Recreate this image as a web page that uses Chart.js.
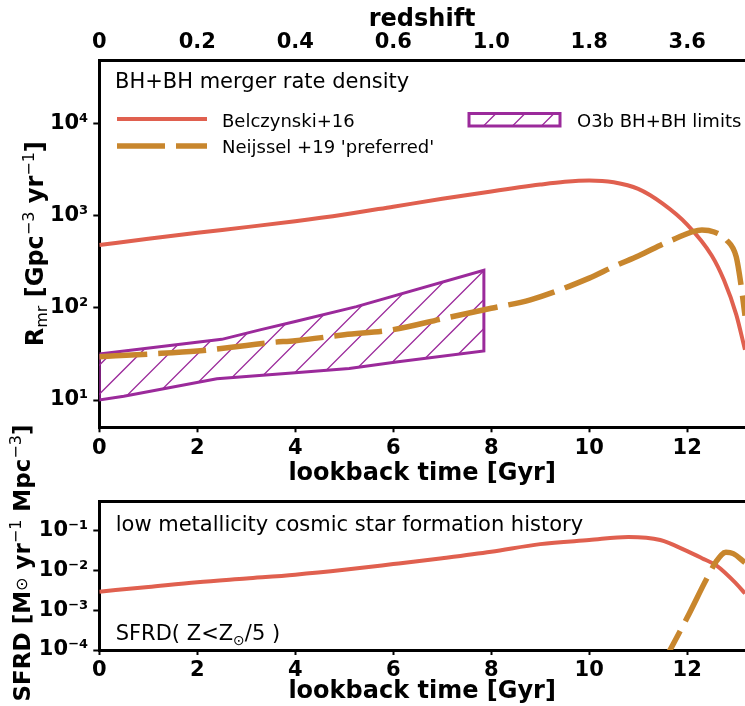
<!DOCTYPE html>
<html>
<head>
<meta charset="utf-8">
<script src="https://cdn.jsdelivr.net/npm/chart.js@4.4.1/dist/chart.umd.min.js"></script>
<style>
  body { margin: 0; background: #fff; width: 745px; height: 706px; overflow: hidden; position: relative; }
  canvas { position: absolute; left: 0; }
  #topChart { top: 0; }
  #botChart { top: 400px; }
</style>
</head>
<body>
<canvas id="topChart" width="745" height="492"></canvas>
<canvas id="botChart" width="745" height="306"></canvas>
<script>
// lookback time axis
const timeTicks = [0, 2, 4, 6, 8, 10, 12];
const redshiftLabels = ['0', '0.2', '0.4', '0.6', '1.0', '1.8', '3.6'];
const T_MAX = 13.18;

// BH+BH merger rate density [Gpc^-3 yr^-1]
const tBelczynski = [0, 1, 2, 3, 4, 5, 6, 7, 8, 9, 9.5, 10, 10.5, 11, 11.5, 12, 12.5, 12.75, 13, 13.18];
const rateBelczynski = [480, 560, 650, 750, 870, 1030, 1250, 1520, 1830, 2170, 2330, 2410, 2300, 1950, 1350, 800, 370, 200, 85, 35];
const tNeijssel = [0, 1, 2, 3, 3.5, 4, 5, 6, 7, 8, 8.8, 10, 10.5, 11, 11.7, 12.3, 12.55, 12.8, 13.0, 13.1, 13.18];
const rateNeijssel = [29.5, 31.5, 34, 39, 42, 44, 51, 58, 76, 99, 122, 210, 280, 365, 545, 700, 665, 545, 359, 175, 82];

// O3b limits (upper and lower edge)
const tLimitUpper = [0, 2.5, 3.3, 4, 5.25, 7.85];
const limitUpper = [31.5, 45.5, 58, 71, 103, 255];
const tLimitLower = [0, 0.5, 2.4, 4, 5.1, 6.1, 7.85];
const limitLower = [10, 11, 17, 19.8, 22, 26, 34];

// low metallicity SFRD [Msun yr^-1 Mpc^-3]
const tSfrdBelczynski = [0, 1, 2, 3, 4, 5, 6, 7, 8, 9, 10, 10.8, 11.45, 12, 12.3, 12.6, 13, 13.18];
const sfrdBelczynski = [0.0029, 0.0038, 0.005, 0.0062, 0.0077, 0.0102, 0.0142, 0.02, 0.029, 0.045, 0.057, 0.068, 0.057, 0.03, 0.02, 0.013, 0.0046, 0.0026];
const tSfrdNeijssel = [11.4, 11.65, 12.0, 12.4, 12.6, 12.79, 12.94, 13.18];
const sfrdNeijssel = [0.000026, 0.0001, 0.00065, 0.0062, 0.017, 0.028, 0.026, 0.0155];

const rateTicks = [10, 100, 1000, 10000];
const sfrdTicks = [1e-4, 1e-3, 1e-2, 1e-1];

const FONT = "'DejaVu Sans', sans-serif";
const RED = '#e0604f';
const ORANGE = '#c8862d';
const PURPLE = '#9b2a9b';

const zip = (xs, ys) => xs.map((x, i) => ({ x: x, y: ys[i] }));
const limitsPolygon = zip(tLimitUpper, limitUpper)
  .concat(zip(tLimitLower, limitLower).reverse())
  .concat([{ x: tLimitUpper[0], y: limitUpper[0] }]);

const supMap = { '-': '⁻', '0': '⁰', '1': '¹', '2': '²', '3': '³', '4': '⁴' };
function powLabel(v) {
  const e = Math.round(Math.log10(v));
  return '10' + String(e).split('').map(c => supMap[c]).join('');
}

// diagonal "/" hatching inside the current clip
function drawHatch(ctx, x0, y0, x1, y1) {
  ctx.strokeStyle = PURPLE;
  ctx.lineWidth = 1.3;
  ctx.beginPath();
  for (let k = Math.floor((x0 + y0) / 29) * 29 + 0.5; k <= x1 + y1 + 29; k += 29) {
    ctx.moveTo(k - y1, y1);
    ctx.lineTo(k - y0, y0);
  }
  ctx.stroke();
}

// parts: [text, size, bold, dy]
function richText(ctx, parts, x, y, center) {
  const font = p => (p[2] ? 'bold ' : '') + p[1] + 'px ' + FONT;
  let w = 0;
  parts.forEach(p => { ctx.font = font(p); w += ctx.measureText(p[0]).width; });
  let cx = center ? x - w / 2 : x;
  ctx.textBaseline = 'alphabetic';
  ctx.textAlign = 'left';
  parts.forEach(p => {
    ctx.font = font(p);
    ctx.fillText(p[0], cx, y + p[3]);
    cx += ctx.measureText(p[0]).width;
  });
}

const tickFont = { family: FONT, size: 21, weight: 'bold' };
const titleFont = { family: FONT, size: 24, weight: 'bold' };

function timeAxis(height, pad, titlePad) {
  return {
    type: 'linear', position: 'bottom', min: 0, max: T_MAX,
    afterBuildTicks: s => { s.ticks = timeTicks.map(v => ({ value: v })); },
    afterFit: s => { s.height = height; },
    ticks: { font: tickFont, color: '#000', padding: pad, maxRotation: 0, autoSkip: false },
    grid: { display: true, drawOnChartArea: false, drawTicks: true, tickLength: 5, tickWidth: 2, color: '#000' },
    border: { display: true, width: 3, color: '#000' },
    title: { display: true, text: 'lookback time [Gyr]', font: titleFont, color: '#000', padding: { top: 0, bottom: titlePad } }
  };
}

function logAxis(min, max, tickVals) {
  return {
    type: 'logarithmic', min: min, max: max,
    afterBuildTicks: s => { s.ticks = tickVals.map(v => ({ value: v })); },
    afterFit: s => { s.width = 99.3; },
    ticks: { font: tickFont, color: '#000', padding: 5, callback: v => powLabel(v) },
    grid: { display: true, drawOnChartArea: false, drawTicks: true, tickLength: 6, tickWidth: 2, color: '#000' },
    border: { display: true, width: 3, color: '#000' }
  };
}

const hatchFill = {
  id: 'hatchFill',
  beforeDatasetsDraw(chart) {
    const { ctx, chartArea: a } = chart;
    const sx = chart.scales.x, sy = chart.scales.y;
    ctx.save();
    ctx.beginPath();
    limitsPolygon.forEach((p, i) => {
      const px = sx.getPixelForValue(p.x), py = sy.getPixelForValue(p.y);
      if (i) ctx.lineTo(px, py); else ctx.moveTo(px, py);
    });
    ctx.closePath();
    ctx.clip();
    drawHatch(ctx, a.left, a.top, a.right, a.bottom);
    ctx.restore();
  }
};

const topDecor = {
  id: 'topDecor',
  afterDraw(chart) {
    const ctx = chart.ctx;
    ctx.save();
    ctx.fillStyle = '#000';
    richText(ctx, [['BH+BH merger rate density', 21, false, 0]], 115, 87.5, false);

    ctx.lineWidth = 4; ctx.strokeStyle = RED;
    ctx.beginPath(); ctx.moveTo(117, 119); ctx.lineTo(207, 119); ctx.stroke();
    ctx.lineWidth = 5.5; ctx.strokeStyle = ORANGE; ctx.setLineDash([48, 11]);
    ctx.beginPath(); ctx.moveTo(117, 146); ctx.lineTo(207, 146); ctx.stroke();
    ctx.setLineDash([]);

    ctx.save();
    ctx.beginPath(); ctx.rect(469, 113.5, 91, 12.5); ctx.clip();
    drawHatch(ctx, 469, 113.5, 560, 126);
    ctx.restore();
    ctx.lineWidth = 3; ctx.strokeStyle = PURPLE;
    ctx.strokeRect(469, 113.5, 91, 12.5);

    ctx.fillStyle = '#000';
    richText(ctx, [['Belczynski+16', 18, false, 0]], 222, 126.5, false);
    richText(ctx, [["Neijssel +19 'preferred'", 18, false, 0]], 222, 153.3, false);
    richText(ctx, [['O3b BH+BH limits', 18, false, 0]], 577, 126.5, false);

    ctx.translate(42.5, 243.7);
    ctx.rotate(-Math.PI / 2);
    richText(ctx, [['R', 24, true, 0], ['mr', 16, false, 4.5], [' [Gpc', 24, true, 0], ['\u22123', 16, false, -9],
                   [' yr', 24, true, 0], ['\u22121', 16, false, -9], [']', 24, true, 0]], 0, 0, true);
    ctx.restore();
  }
};

const botDecor = {
  id: 'botDecor',
  afterDraw(chart) {
    const ctx = chart.ctx;
    ctx.save();
    ctx.fillStyle = '#000';
    richText(ctx, [['low metallicity cosmic star formation history', 21, false, 0]], 115.7, 130.5, false);
    richText(ctx, [['SFRD( Z<Z', 21, false, 0], ['\u2299', 14, false, 5], ['/5 )', 21, false, 0]], 115.7, 240, false);

    ctx.translate(30, 163);
    ctx.rotate(-Math.PI / 2);
    richText(ctx, [['SFRD [M', 23, true, 0], ['\u2299', 16, false, -3], [' yr', 23, true, 0], ['\u22121', 16, false, -9],
                   [' Mpc', 23, true, 0], ['\u22123', 16, false, -9], [']', 23, true, 0]], 0, 0, true);
    ctx.restore();
  }
};

new Chart(document.getElementById('topChart'), {
  type: 'line',
  data: {
    datasets: [
      { label: "Neijssel +19 'preferred'", data: zip(tNeijssel, rateNeijssel), borderColor: ORANGE, borderWidth: 5.5,
        borderDash: [48, 11], pointRadius: 0, cubicInterpolationMode: 'monotone', fill: false },
      { label: 'Belczynski+16', data: zip(tBelczynski, rateBelczynski), borderColor: RED, borderWidth: 4,
        pointRadius: 0, cubicInterpolationMode: 'monotone', fill: false },
      { label: 'O3b BH+BH limits', data: limitsPolygon, borderColor: PURPLE, borderWidth: 3,
        fill: false, tension: 0, pointRadius: 0 }
    ]
  },
  options: {
    responsive: false, animation: false,
    layout: { padding: 0 },
    plugins: { legend: { display: false }, tooltip: { enabled: false } },
    scales: {
      x: timeAxis(64.7, 4, 4),
      x2: {
        type: 'linear', position: 'top', min: 0, max: T_MAX,
        afterBuildTicks: s => { s.ticks = timeTicks.map(v => ({ value: v })); },
        afterFit: s => { s.height = 60; },
        ticks: { font: tickFont, color: '#000', padding: -3, maxRotation: 0, autoSkip: false,
                 callback: (v, i) => redshiftLabels[i] },
        grid: { display: false },
        border: { display: true, width: 3, color: '#000' },
        title: { display: true, text: 'redshift', font: titleFont, color: '#000', padding: { top: 5, bottom: 0 } }
      },
      y: logAxis(5.06, 48700, rateTicks)
    }
  },
  plugins: [hatchFill, topDecor]
});

new Chart(document.getElementById('botChart'), {
  type: 'line',
  data: {
    datasets: [
      { label: 'Neijssel +19', data: zip(tSfrdNeijssel, sfrdNeijssel), borderColor: ORANGE, borderWidth: 5.5,
        borderDash: [48, 11], pointRadius: 0, cubicInterpolationMode: 'monotone', fill: false, clip: 0 },
      { label: 'Belczynski+16', data: zip(tSfrdBelczynski, sfrdBelczynski), borderColor: RED, borderWidth: 4,
        pointRadius: 0, cubicInterpolationMode: 'monotone', fill: false }
    ]
  },
  options: {
    responsive: false, animation: false,
    layout: { padding: 0 },
    plugins: { legend: { display: false }, tooltip: { enabled: false } },
    scales: {
      x: timeAxis(56, 3, 0),
      x2: {
        type: 'linear', position: 'top', min: 0, max: T_MAX,
        afterFit: s => { s.height = 101.7; },
        ticks: { display: false },
        grid: { display: false },
        border: { display: true, width: 3, color: '#000' }
      },
      y: logAxis(1e-4, 0.52, sfrdTicks)
    }
  },
  plugins: [botDecor]
});
</script>
</body>
</html>
